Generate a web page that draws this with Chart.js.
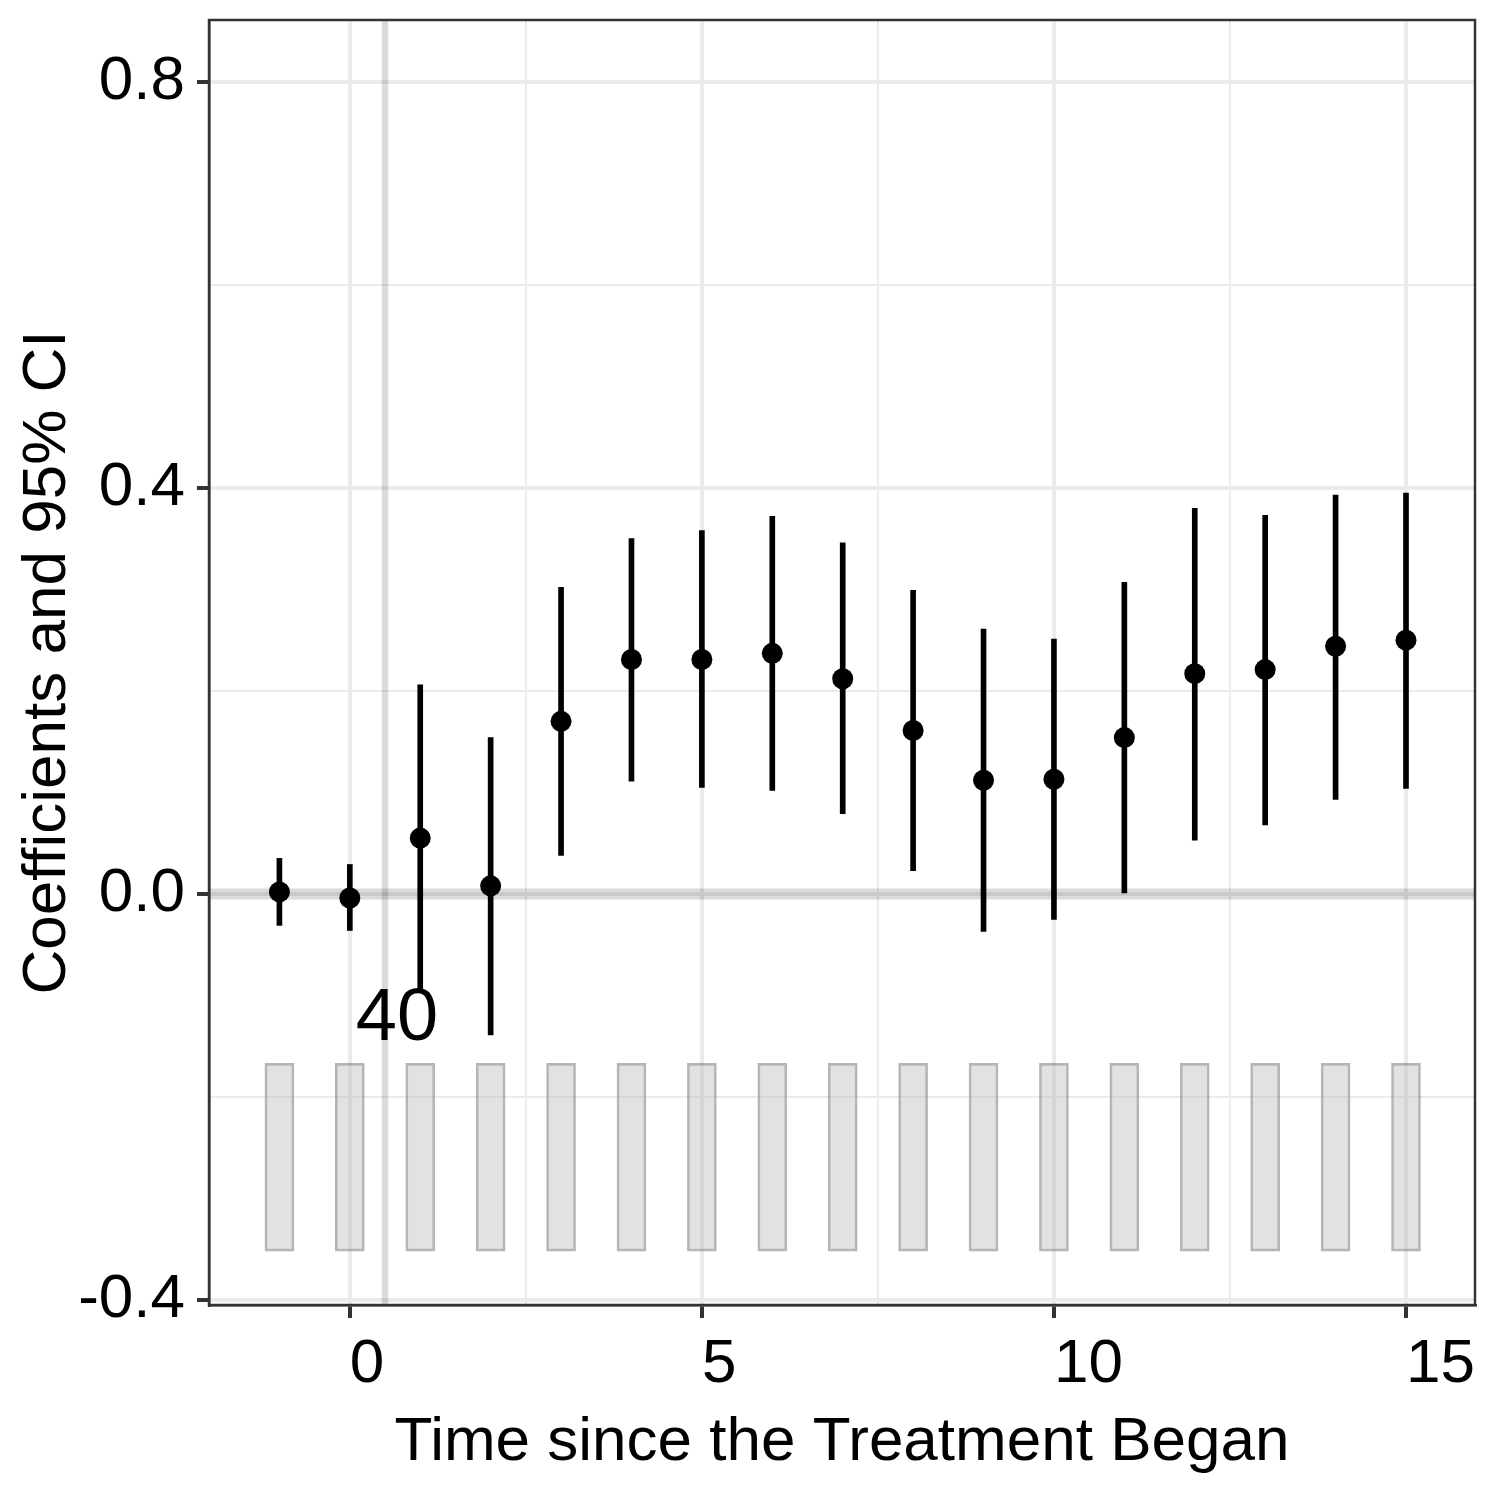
<!DOCTYPE html>
<html>
<head>
<meta charset="utf-8">
<script src="https://cdn.jsdelivr.net/npm/chart.js@4.4.1/dist/chart.umd.min.js"></script>
<style>
  body { margin: 0; background: #fff; }
  canvas { display: block; }
</style>
</head>
<body>
<canvas id="eventChart" width="1500" height="1500"></canvas>
<script>
// periods relative to treatment start
const periods = [-1, 0, 1, 2, 3, 4, 5, 6, 7, 8, 9, 10, 11, 12, 13, 14, 15];
// point estimates and 95% CI bounds
const coefs = [0.002, -0.004, 0.055, 0.008, 0.170, 0.231, 0.231, 0.237, 0.212, 0.161, 0.112, 0.113, 0.154, 0.217, 0.221, 0.244, 0.250];
const ciLow = [-0.031, -0.036, -0.097, -0.139, 0.038, 0.111, 0.105, 0.102, 0.079, 0.023, -0.037, -0.025, 0.001, 0.053, 0.068, 0.093, 0.104];
const ciHigh = [0.035, 0.029, 0.206, 0.154, 0.302, 0.350, 0.358, 0.372, 0.346, 0.299, 0.261, 0.251, 0.307, 0.380, 0.373, 0.393, 0.395];
// grey bars at the bottom (number of obs, drawn on the coefficient scale)
const obsBottom = [-0.352, -0.352, -0.352, -0.352, -0.352, -0.352, -0.352, -0.352, -0.352, -0.352, -0.352, -0.352, -0.352, -0.352, -0.352, -0.352, -0.352];
const obsTop = [-0.167, -0.167, -0.167, -0.167, -0.167, -0.167, -0.167, -0.167, -0.167, -0.167, -0.167, -0.167, -0.167, -0.167, -0.167, -0.167, -0.167];
// axis ticks
const xMajorTicks = [0, 5, 10, 15];
const xMinorTicks = [2.5, 7.5, 12.5];
const yMajorTicks = [-0.4, 0, 0.4, 0.8];
const yMinorTicks = [-0.2, 0.2, 0.6];
// reference lines and label
const refLineX = 0.5;
const refLineY = 0;
const obsLabel = "40";
const obsLabelX = 0.67;
const obsLabelY = -0.124;

const FONT = "'Liberation Sans', Arial, Helvetica, sans-serif";
const AXIS_DARK = "#333333";
const GRID = "#ebebeb";

function isMajor(list, v) {
  return list.some((m) => Math.abs(m - v) < 1e-9);
}
function tickIsMajor(list, c) {
  return !!(c && c.tick && isMajor(list, c.tick.value));
}

// vertical/horizontal reference lines, label and panel frame
const extras = {
  id: "extras",
  beforeDatasetsDraw(chart) {
    const { ctx, chartArea, scales } = chart;
    ctx.save();
    ctx.beginPath();
    ctx.rect(chartArea.left, chartArea.top, chartArea.right - chartArea.left, chartArea.bottom - chartArea.top);
    ctx.clip();
    ctx.strokeStyle = "rgba(0,0,0,0.14)";
    // hline at 0
    let y0 = scales.y.getPixelForValue(refLineY);
    ctx.lineWidth = 11;
    ctx.beginPath();
    ctx.moveTo(chartArea.left, y0);
    ctx.lineTo(chartArea.right, y0);
    ctx.stroke();
    // vline at 0.5
    let x0 = scales.x.getPixelForValue(refLineX);
    ctx.lineWidth = 6.5;
    ctx.beginPath();
    ctx.moveTo(x0, chartArea.top);
    ctx.lineTo(x0, chartArea.bottom);
    ctx.stroke();
    ctx.restore();
  },
  afterDatasetsDraw(chart) {
    const { ctx, chartArea, scales } = chart;
    ctx.save();
    ctx.fillStyle = "#000";
    ctx.font = "74px " + FONT;
    ctx.textAlign = "center";
    ctx.textBaseline = "middle";
    ctx.fillText(obsLabel, scales.x.getPixelForValue(obsLabelX), scales.y.getPixelForValue(obsLabelY));
    ctx.strokeStyle = AXIS_DARK;
    ctx.lineWidth = 2.5;
    ctx.strokeRect(chartArea.left, chartArea.top, chartArea.right - chartArea.left, chartArea.bottom - chartArea.top);
    ctx.restore();
  },
};

const chart = new Chart(document.getElementById("eventChart"), {
  type: "scatter",
  data: {
    datasets: [
      {
        type: "scatter",
        label: "Coefficient",
        data: periods.map((p, i) => ({ x: p, y: coefs[i] })),
        pointRadius: 10.5,
        pointBackgroundColor: "#000",
        pointBorderWidth: 0,
        showLine: false,
        order: 1,
      },
      {
        type: "bar",
        label: "95% CI",
        data: periods.map((p, i) => ({ x: p, y: [ciLow[i], ciHigh[i]] })),
        backgroundColor: "#000",
        borderWidth: 0,
        barThickness: 5,
        grouped: false,
        order: 2,
      },
      {
        type: "bar",
        label: "Obs",
        data: periods.map((p, i) => ({ x: p, y: [obsBottom[i], obsTop[i]] })),
        backgroundColor: "rgba(185,185,185,0.42)",
        borderColor: "rgba(135,135,135,0.62)",
        borderWidth: 2,
        borderSkipped: false,
        barThickness: 29,
        grouped: false,
        order: 3,
      },
    ],
  },
  options: {
    responsive: false,
    animation: false,
    devicePixelRatio: 1,
    layout: { padding: { top: 20, right: 25, left: 0, bottom: 0 } },
    plugins: {
      legend: { display: false },
      tooltip: { enabled: false },
    },
    scales: {
      x: {
        type: "linear",
        min: -2.0,
        max: 15.98,
        offset: false,
        afterBuildTicks: (scale) => {
          scale.ticks = xMajorTicks.concat(xMinorTicks).sort((a, b) => a - b).map((v) => ({ value: v }));
        },
        afterFit: (scale) => {
          scale.height = 195;
          scale.paddingLeft = 0;
          scale.paddingRight = 0;
        },
        ticks: {
          autoSkip: false,
          maxRotation: 0,
          align: "start",
          padding: 10,
          color: "#000",
          font: { family: FONT, size: 62 },
          callback: (v) => (isMajor(xMajorTicks, v) ? String(v) : ""),
        },
        grid: {
          offset: false,
          color: GRID,
          lineWidth: (c) => (tickIsMajor(xMajorTicks, c) ? 4 : 2),
          tickColor: (c) => (tickIsMajor(xMajorTicks, c) ? AXIS_DARK : "rgba(0,0,0,0)"),
          tickWidth: 4,
          tickLength: 13,
        },
        border: { color: AXIS_DARK, width: 2.5 },
        title: {
          display: true,
          text: "Time since the Treatment Began",
          color: "#000",
          font: { family: FONT, size: 62, lineHeight: 1.2 },
          padding: { top: 0, bottom: 20 },
        },
      },
      y: {
        type: "linear",
        min: -0.405,
        max: 0.861,
        afterBuildTicks: (scale) => {
          scale.ticks = yMajorTicks.concat(yMinorTicks).sort((a, b) => a - b).map((v) => ({ value: v }));
        },
        afterFit: (scale) => {
          scale.width = 209;
          scale.paddingTop = 0;
          scale.paddingBottom = 0;
        },
        ticks: {
          autoSkip: false,
          padding: 12,
          color: "#000",
          font: { family: FONT, size: 62 },
          callback: (v) => (isMajor(yMajorTicks, v) ? (Math.abs(v) < 1e-9 ? "0.0" : v.toFixed(1)) : ""),
        },
        grid: {
          offset: false,
          color: GRID,
          lineWidth: (c) => (tickIsMajor(yMajorTicks, c) ? 4 : 2),
          tickColor: (c) => (tickIsMajor(yMajorTicks, c) ? AXIS_DARK : "rgba(0,0,0,0)"),
          tickWidth: 4,
          tickLength: 12,
        },
        border: { color: AXIS_DARK, width: 2.5 },
        title: {
          display: true,
          text: "Coefficients and 95% CI",
          color: "#000",
          font: { family: FONT, size: 62, lineHeight: 1.2 },
          padding: { top: 11, bottom: 0 },
        },
      },
    },
  },
  plugins: [extras],
});
</script>
</body>
</html>
